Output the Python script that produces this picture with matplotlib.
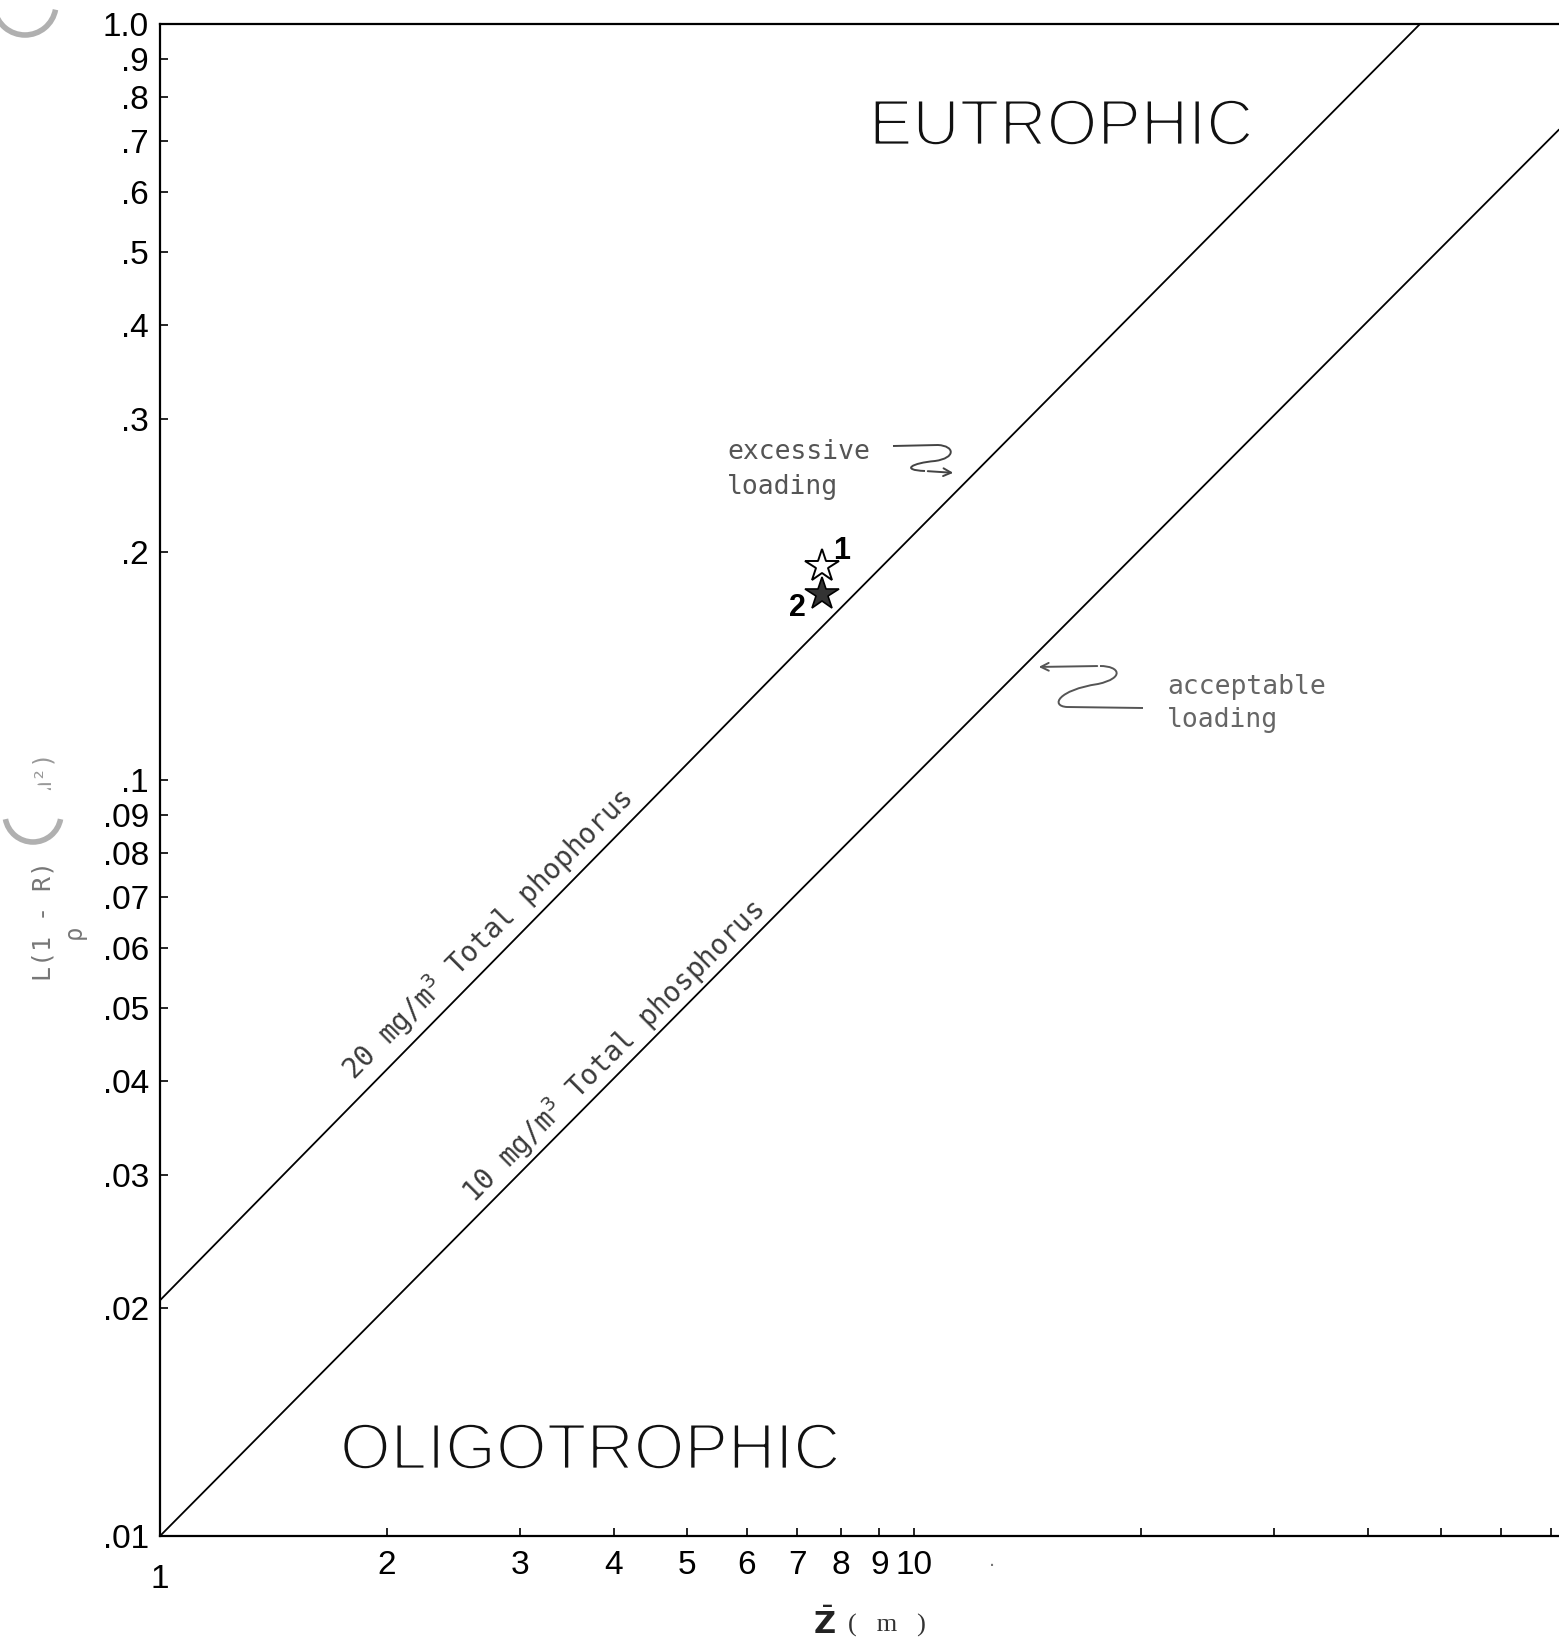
import matplotlib
matplotlib.use("Agg")
import matplotlib.pyplot as plt
import matplotlib.patheffects as pe
from matplotlib.path import Path
from matplotlib.patches import PathPatch, Circle, Arc, FancyArrowPatch
from matplotlib.transforms import ScaledTranslation

# ---------------- data ----------------
x_tp20 = [1.0, 7.06, 46.9]
y_tp20 = [0.0205, 0.149, 1.0]
x_tp10 = [1.0, 7.06, 71.7]
y_tp10 = [0.01, 0.0714, 0.725]

star_x = [7.55, 7.55]
star_y = [0.192, 0.176]
star_labels = ["1", "2"]

xtick_vals = [1, 2, 3, 4, 5, 6, 7, 8, 9, 10, 20, 30, 40, 50, 60, 70]
xtick_labels = ["1", "2", "3", "4", "5", "6", "7", "8", "9", "10",
                "", "", "", "", "", ""]
ytick_vals = [0.01, 0.02, 0.03, 0.04, 0.05, 0.06, 0.07, 0.08, 0.09,
              0.1, 0.2, 0.3, 0.4, 0.5, 0.6, 0.7, 0.8, 0.9, 1.0]
ytick_labels = [".01", ".02", ".03", ".04", ".05", ".06", ".07", ".08", ".09",
                ".1", ".2", ".3", ".4", ".5", ".6", ".7", ".8", ".9", "1.0"]

W, H = 1559, 1646
def fx(px):
    return px / W
def fy(py):
    return 1 - py / H

plt.rcParams['font.family'] = ['Liberation Sans', 'DejaVu Sans']
fig = plt.figure(figsize=(W / 100, H / 100), dpi=100)
fig.patch.set_facecolor('white')
ax = fig.add_axes([160 / W, 110 / H, (W - 160) / W, (1536 - 24) / H])
ax.set_xscale('log')
ax.set_yscale('log')
ax.set_xlim(1, 71.7)
ax.set_ylim(0.01, 1.0)

ax.plot(x_tp20, y_tp20, color='black', lw=1.3, solid_capstyle='round')
ax.plot(x_tp10, y_tp10, color='black', lw=1.3, solid_capstyle='round')

ax.plot([star_x[0]], [star_y[0]], marker='*', ms=25, mfc='white', mec='black',
        mew=1.4, ls='none', zorder=5)
ax.plot([star_x[1]], [star_y[1]], marker='*', ms=25, mfc='#333333', mec='black',
        mew=1.2, ls='none', zorder=5)

# star labels
ax.annotate(star_labels[0], (star_x[0], star_y[0]), xytext=(14, 11),
            textcoords='offset points', fontsize=22, fontweight='bold',
            ha='center', va='center')
ax.annotate(star_labels[1], (star_x[1], star_y[1]), xytext=(-18, -10),
            textcoords='offset points', fontsize=22, fontweight='bold',
            ha='center', va='center')

# axes styling
for s in ['top', 'left', 'bottom']:
    ax.spines[s].set_linewidth(1.6)
ax.spines['right'].set_visible(False)
ax.set_xticks(xtick_vals)
ax.set_xticklabels(xtick_labels)
ax.set_yticks(ytick_vals)
ax.set_yticklabels(ytick_labels)
ax.minorticks_off()
ax.tick_params(axis='both', which='major', direction='in', length=6, width=1.2,
               labelsize=24, colors='black')
ax.tick_params(axis='x', pad=10)
ax.tick_params(axis='y', pad=8)
ax.tick_params(top=False, right=False)

# the "1" on the x axis sits a little lower in the original
lbl1 = ax.xaxis.get_major_ticks()[0].label1
lbl1.set_transform(lbl1.get_transform() + ScaledTranslation(0, -10 / 72, fig.dpi_scale_trans))

# rotated line labels
tw_font = ['DejaVu Sans Mono', 'DejaVu Sans']
ax.text(2.72, 0.0626, "20 mg/m$^3$ Total phophorus", rotation=45,
        rotation_mode='anchor', ha='center', va='center', fontsize=20,
        family=tw_font, color='#3a3a3a')
ax.text(4.0, 0.0438, "10 mg/m$^3$ Total phosphorus", rotation=45,
        rotation_mode='anchor', ha='center', va='center', fontsize=20,
        family=tw_font, color='#3a3a3a')

# big region labels (thin strokes, as in the original lettering)
thin = [pe.Stroke(linewidth=2.0, foreground='white')]
fig.text(fx(1061), fy(128), "EUTROPHIC", ha='center', va='center',
         fontsize=47, family=['Liberation Sans'], color='#111111',
         path_effects=thin)
fig.text(fx(590), fy(1452), "OLIGOTROPHIC", ha='center', va='center',
         fontsize=47, family=['Liberation Sans'], color='#111111',
         path_effects=thin)

# annotations
fig.text(fx(727), fy(452), "excessive", ha='left', va='center', fontsize=19,
         family=tw_font, color='#555555')
fig.text(fx(727), fy(487), "loading", ha='left', va='center', fontsize=19,
         family=tw_font, color='#555555')
fig.text(fx(1167), fy(687), "acceptable", ha='left', va='center', fontsize=19,
         family=tw_font, color='#666666')
fig.text(fx(1167), fy(720), "loading", ha='left', va='center', fontsize=19,
         family=tw_font, color='#666666')

def scribble(pts, codes, tip_from, tip_to, color):
    verts = [(fx(x), fy(y)) for x, y in pts]
    p = PathPatch(Path(verts, codes), facecolor='none', edgecolor=color, lw=1.4,
                  transform=fig.transFigure)
    fig.add_artist(p)
    fig.add_artist(FancyArrowPatch(
        (fx(tip_from[0]), fy(tip_from[1])), (fx(tip_to[0]), fy(tip_to[1])),
        arrowstyle='->', mutation_scale=14, lw=1.4, color=color,
        transform=fig.transFigure))

M, L4, C4 = Path.MOVETO, Path.LINETO, Path.CURVE4
scribble([(893, 446), (938, 445),
          (955, 446), (956, 458), (935, 461),
          (912, 463), (900, 470), (925, 471)],
         [M, L4, C4, C4, C4, C4, C4, C4],
         (925, 471), (956, 473), '#444444')
scribble([(1143, 708), (1067, 707),
          (1050, 706), (1058, 690), (1098, 684),
          (1125, 678), (1120, 666), (1100, 666)],
         [M, L4, C4, C4, C4, C4, C4, C4],
         (1100, 666), (1036, 667), '#555555')

# y label (faded typewriter text)
fig.text(fx(43), fy(921), "L(1 - R)", rotation=90, ha='center', va='center',
         fontsize=18, family=tw_font, color='#777777')
fig.text(fx(74), fy(932), "ρ", ha='center', va='center',
         fontsize=17, family=tw_font, color='#777777', rotation=90)
fig.text(fx(40), fy(790), "(g/m²)", rotation=90, ha='center', va='center',
         fontsize=17, family=tw_font, color='#999999')

# x label
fig.text(fx(824), fy(1625), r"$\bar{\mathbf{Z}}$", ha='center', va='center',
         fontsize=22, color='#222222')
fig.text(fx(887), fy(1625), "(   m   )", ha='center', va='center',
         fontsize=19, family=['Liberation Serif'], color='#333333')
fig.text(fx(992), fy(1560), ".", ha='center', va='center', fontsize=16,
         color='#777777')

# hole-punch shadows from the scan
for cx, cy, r in [(25, 4, 31), (33, 814, 28)]:
    fig.add_artist(Circle((fx(cx), fy(cy)), r / W, facecolor='white',
                          edgecolor='none', transform=fig.transFigure, zorder=10))
    fig.add_artist(Arc((fx(cx), fy(cy)), 2 * r / W, 2 * r / H, theta1=190, theta2=350,
                       color='#b0b0b0', lw=4, transform=fig.transFigure, zorder=11))

fig.savefig("out.png", dpi=100, facecolor='white')
